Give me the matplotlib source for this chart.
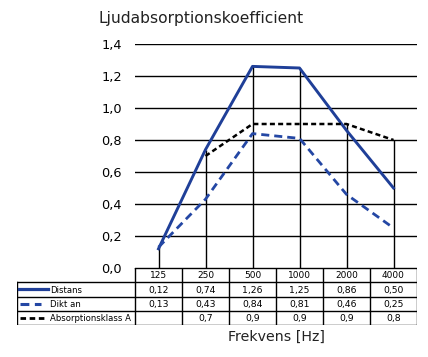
"""Ljudabsorptionskoefficient chart with a data table below the axes."""

import matplotlib

matplotlib.use("Agg")
import matplotlib.pyplot as plt
import numpy as np

categories = ["125", "250", "500", "1000", "2000", "4000"]
distans = [0.12, 0.74, 1.26, 1.25, 0.86, 0.50]
dikt_an = [0.13, 0.43, 0.84, 0.81, 0.46, 0.25]
klass_a = [np.nan, 0.7, 0.9, 0.9, 0.9, 0.8]

series_names = ["Distans", "Dikt an", "Absorptionsklass A"]
y_ticks = [0.0, 0.2, 0.4, 0.6, 0.8, 1.0, 1.2, 1.4]

W, H = 428, 357
BLUE = "#1f3f98"
BLUE2 = "#2447a4"


def comma(v, nd):
    if np.isnan(v):
        return ""
    return f"{v:.{nd}f}".replace(".", ",")


fig = plt.figure(figsize=(W / 100, H / 100), dpi=100)
fig.patch.set_facecolor("white")

# plot area: x 135..417 px, y 44..268 px
ax = fig.add_axes([135 / W, 1 - 268 / H, 282 / W, 224 / H])
x = np.arange(len(categories))
ax.set_xlim(-0.5, len(categories) - 0.5)
ax.set_ylim(0, 1.4)
for s in ax.spines.values():
    s.set_visible(False)
ax.set_xticks([])
ax.set_yticks(y_ticks)
ax.set_yticklabels([comma(v, 1) for v in y_ticks], fontsize=9.3)
ax.tick_params(axis="y", length=0, pad=9.5)
for v in y_ticks:
    ax.axhline(v, color="black", lw=1.0, zorder=1)

# drop lines to the highest value in each category
tops = np.nanmax(np.vstack([distans, dikt_an, klass_a]), axis=0)
ax.vlines(x, 0, tops, color="black", lw=1.0, zorder=1)

styles = [
    dict(color=BLUE, lw=2.1, ls="-"),
    dict(color=BLUE2, lw=2.0, ls=(0, (2.9, 1.8))),
    dict(color="black", lw=1.8, ls=(0, (2.0, 1.3))),
]
for vals, st in zip([distans, dikt_an, klass_a], styles):
    ax.plot(x, vals, zorder=3, **st)

fig.text(98 / W, 1 - 18 / H, "Ljudabsorptionskoefficient", fontsize=11.2,
         ha="left", va="center", color="#222222")

# data table: x 17..417 px, y 268..325 px
tab = fig.add_axes([17 / W, 1 - 325 / H, 400 / W, 57 / H])
label_w = 118 / 47
xmin = -0.5 - label_w
xmax = len(categories) - 0.5
tab.set_xlim(xmin, xmax)
tab.set_ylim(4, 0)
tab.axis("off")

lkw = dict(color="black", lw=1.0, solid_capstyle="projecting")
tab.plot([-0.5, xmax], [0, 0], **lkw)
for r in range(1, 5):
    tab.plot([xmin, xmax], [r, r], **lkw)
tab.plot([xmin, xmin], [1, 4], **lkw)
for b in np.arange(-0.5, xmax + 0.01, 1.0):
    tab.plot([b, b], [0, 4], **lkw)

for i, c in enumerate(categories):
    tab.text(i, 0.55, c, ha="center", va="center", fontsize=6.5)
rows = [(distans, 2), (dikt_an, 2), (klass_a, 1)]
for r, (vals, nd) in enumerate(rows, start=1):
    for i, v in enumerate(vals):
        tab.text(i, r + 0.55, comma(v, nd), ha="center", va="center",
                 fontsize=6.7)

sample_spans = [(2 / 47, 31 / 47), (3 / 47, 24 / 47), (3 / 47, 28 / 47)]
for r, (name, st, span) in enumerate(zip(series_names, styles, sample_spans),
                                     start=1):
    tab.plot([xmin + span[0], xmin + span[1]], [r + 0.5, r + 0.5],
             color=st["color"], lw=st["lw"] + 0.2, ls=st["ls"])
    tab.text(xmin + 33 / 47, r + 0.55, name, ha="left", va="center",
             fontsize=6.1)

fig.text(276 / W, 1 - 337 / H, "Frekvens [Hz]", fontsize=10.2,
         ha="center", va="center", color="#222222")

fig.savefig("out.png", dpi=100)
